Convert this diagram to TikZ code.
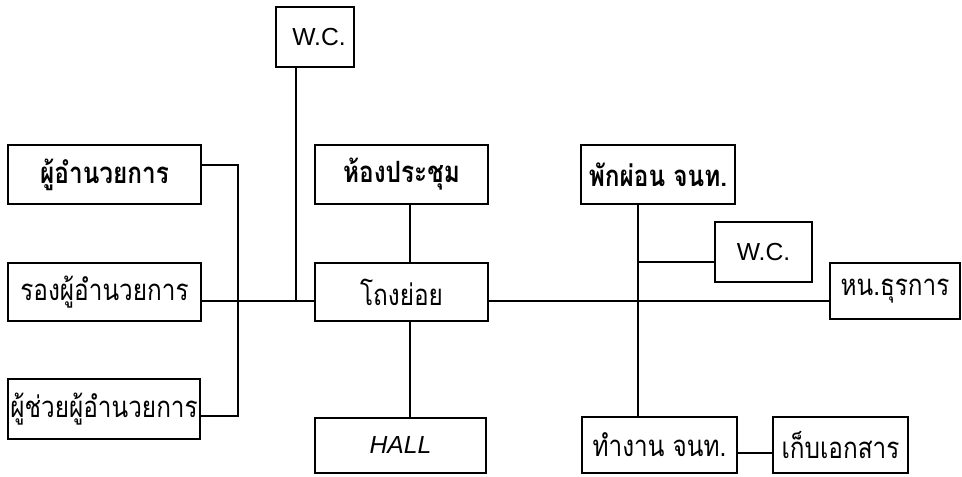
\documentclass[tikz,border=0pt]{standalone}
\usepackage{fontspec}
\usepackage{graphicx}
\setmainfont{Liberation Sans}
\newfontfamily\thaifont[Script=Thai]{Loma}
\newcommand{\thx}[1]{\scalebox{0.83}[1]{#1}}
\begin{document}
\begin{tikzpicture}[x=0.75pt,y=-0.75pt,
  room/.style={draw, line width=1.5pt, inner sep=0pt, font=\thaifont\fontsize{22}{24}\selectfont},
  roombold/.style={room, font=\thaifont\bfseries\fontsize{22}{24}\selectfont},
  latin/.style={room, font=\fontsize{18.5}{20}\selectfont},
  link/.style={line width=1.2pt}]
\useasboundingbox (0,0) rectangle (962,477);
\newcommand{\roombox}[7]{%
  \node[#1, minimum width={(#5-#3)*0.75pt}, minimum height={(#6-#4)*0.75pt}] (#2) at ({(#3+#5)/2},{(#4+#6)/2}) {#7};}
\roombox{latin}{wcA}{276}{7}{354}{67}{\hspace*{6pt}W.C.}
\roombox{roombold}{dir}{8}{145}{201}{204}{\thx{ผู้อำนวยการ}}
\roombox{roombold}{meet}{315}{145}{488}{204}{\thx{ห้องประชุม}}
\roombox{roombold}{rest}{581}{145}{735}{204}{\thx{พักผ่อน จนท.}}
\roombox{latin}{wcB}{715}{222}{812}{282}{W.C.}
\roombox{room}{dep}{8}{263}{201}{321}{\thx{รองผู้อำนวยการ}}
\roombox{room}{lobby}{315}{263}{488}{321}{\thx{โถงย่อย}}
\roombox{room}{admin}{830}{263}{960}{319}{\thx{หน.ธุรการ}}
\roombox{room}{asst}{8}{379}{200}{439}{\thx{ผู้ช่วยผู้อำนวยการ}}
\roombox{latin}{hall}{315}{418}{486}{473}{\itshape HALL}
\roombox{room}{work}{582}{417}{737}{473}{\thx{ทำงาน จนท.}}
\roombox{room}{store}{773}{417}{908}{473}{\thx{เก็บเอกสาร}}
% junctions
\coordinate (jw) at (296,301);
\coordinate (ja) at (238,165);
\coordinate (jb) at (238,416);
\coordinate (jm) at (410,301);
\coordinate (jr) at (638,301);
\coordinate (jc) at (638,262);
\coordinate (js) at (750,453);
% connectors
\draw[link] (wcA.south -| jw) -- (jw);
\draw[link] (dir.east |- ja) -- (ja) -- (jb) -- (asst.east |- jb);
\draw[link] (dep.east |- jw) -- (lobby.west |- jw);
\draw[link] (meet.south -| jm) -- (lobby.north -| jm);
\draw[link] (lobby.south -| jm) -- (hall.north -| jm);
\draw[link] (lobby.east |- jr) -- (admin.west |- jr);
\draw[link] (rest.south -| jr) -- (work.north -| jr);
\draw[link] (jc) -- (wcB.west |- jc);
\draw[link] (work.east |- js) -- (store.west |- js);
\end{tikzpicture}
\end{document}
